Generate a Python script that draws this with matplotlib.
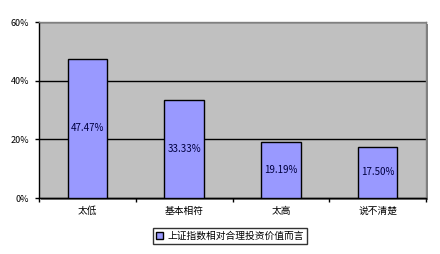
import matplotlib.pyplot as plt
import numpy as np
from matplotlib.patches import Rectangle

plt.rcParams['font.family'] = ['Noto Sans CJK SC', 'DejaVu Sans']

# data
categories = ['太低', '基本相符', '太高', '说不清楚']
values = [47.47, 33.33, 19.19, 17.50]
bar_labels = ['47.47%', '33.33%', '19.19%', '17.50%']
series_name = '上证指数相对合理投资价值而言'
yticks = [0, 20, 40, 60]
ytick_labels = ['0%', '20%', '40%', '60%']

fig = plt.figure(figsize=(4.4, 2.54), dpi=100)
pos = [39 / 440, 1 - 198 / 254, 387 / 440, 176 / 254]

# drop shadow behind the plot area
fig.patches.append(Rectangle((pos[0] + 2 / 440, pos[1] - 2 / 254), pos[2], pos[3],
                             transform=fig.transFigure, facecolor='#808080',
                             edgecolor='none', zorder=-5))

ax = fig.add_axes(pos)
ax.set_zorder(1)
ax.set_facecolor('#C0C0C0')

x = np.arange(len(categories))
bars = ax.bar(x, values, width=0.41, color='#9999FF', edgecolor='black',
              linewidth=1, label=series_name, zorder=3)

for b, lab in zip(bars, bar_labels):
    ax.text(b.get_x() + b.get_width() / 2, b.get_height() / 2, lab,
            ha='center', va='center', fontsize=7, color='#000040', zorder=4)

ax.set_xlim(-0.5, len(categories) - 0.5)
ax.set_ylim(0, 60)
ax.set_yticks(yticks)
ax.set_yticklabels(ytick_labels, fontsize=6.5)
ax.yaxis.grid(True, color='black', linewidth=1, zorder=1)

ax.set_xticks(x)
ax.set_xticklabels(categories, fontsize=7)
ax.tick_params(axis='x', length=0, pad=6)
ax.tick_params(axis='y', length=3, width=1, pad=4, direction='out')
# small ticks at category boundaries
ax.set_xticks(np.arange(len(categories) + 1) - 0.5, minor=True)
ax.tick_params(axis='x', which='minor', length=3, width=1, direction='out')

for s in ['left', 'bottom']:
    ax.spines[s].set_color('black')
    ax.spines[s].set_linewidth(1)
for s in ['top', 'right']:
    ax.spines[s].set_color('#808080')
    ax.spines[s].set_linewidth(1)

leg = fig.legend(loc='center', bbox_to_anchor=(0.522, 0.071), fontsize=7,
                 frameon=True, fancybox=False, handlelength=0.8,
                 handleheight=0.8, handletextpad=0.4, borderpad=0.3)
leg.get_frame().set_edgecolor('black')
leg.get_frame().set_linewidth(1)

fig.savefig('out.png', dpi=100)
